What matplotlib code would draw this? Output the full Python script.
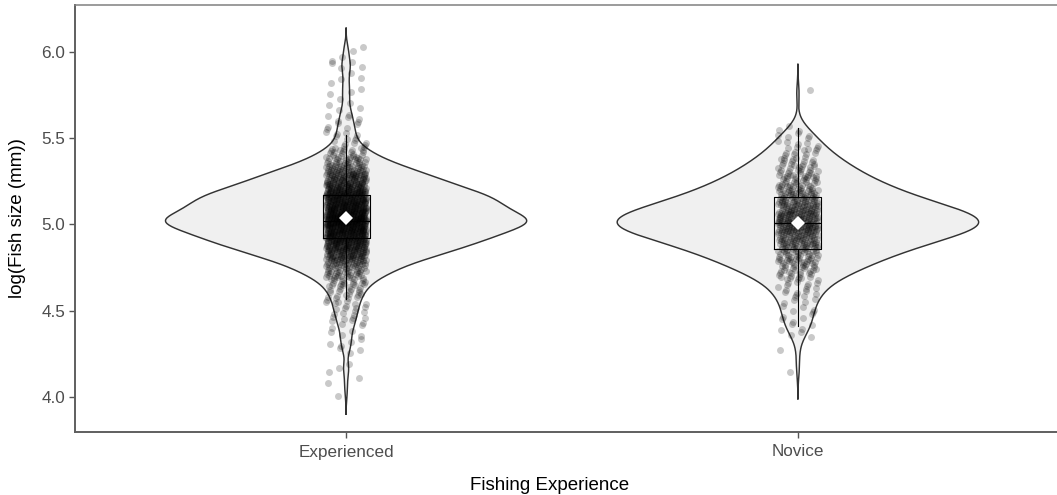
import numpy as np
import matplotlib
matplotlib.use("Agg")
import matplotlib.pyplot as plt

# Fish size (log mm) observations per group, recorded as value levels and counts
groups = ["Experienced", "Novice"]

exp_levels = [4.02, 4.07, 4.12, 4.17, 4.22, 4.27, 4.32, 4.37, 4.42, 4.47,
              4.52, 4.57, 4.62, 4.67, 4.72, 4.77, 4.82, 4.87, 4.92, 4.97,
              5.02, 5.07, 5.12, 5.17, 5.22, 5.27, 5.32, 5.37, 5.42, 5.47,
              5.52, 5.57, 5.62, 5.67, 5.72, 5.77, 5.82, 5.87, 5.92, 5.97, 6.02]
exp_counts = [1, 1, 1, 3, 0, 3, 4, 4, 6, 8,
              9, 11, 14, 20, 32, 45, 66, 86, 104, 120,
              140, 120, 112, 104, 82, 66, 48, 30, 18, 9,
              7, 6, 5, 3, 2, 3, 2, 2, 4, 2, 2]

nov_levels = [4.16, 4.21, 4.26, 4.31, 4.36, 4.41, 4.46, 4.51, 4.56, 4.61,
              4.66, 4.71, 4.76, 4.81, 4.86, 4.91, 4.96, 5.01, 5.06, 5.11,
              5.16, 5.21, 5.26, 5.31, 5.36, 5.41, 5.46, 5.51, 5.56, 5.61,
              5.66, 5.71, 5.76]
nov_counts = [1, 0, 1, 0, 3, 4, 5, 5, 6, 8,
              10, 16, 22, 28, 36, 44, 55, 62, 56, 46,
              37, 30, 24, 19, 15, 11, 8, 6, 3, 0,
              0, 0, 1]

y_ticks = [4.0, 4.5, 5.0, 5.5, 6.0]
x_title = "Fishing Experience"
y_title = "log(Fish size (mm))"

FONT = "Liberation Sans"
plt.rcParams["font.family"] = [FONT, "DejaVu Sans"]


def expand(levels, counts):
    return np.repeat(np.asarray(levels, float), np.asarray(counts, int))


def nrd0(x):
    sd = np.std(x, ddof=1)
    iqr = np.subtract(*np.percentile(x, [75, 25]))
    lo = min(sd, iqr / 1.34)
    return 0.9 * lo * len(x) ** (-0.2)


def kde(x, bw):
    grid = np.linspace(x.min() - 3 * bw, x.max() + 3 * bw, 512)
    z = (grid[:, None] - x[None, :]) / bw
    dens = np.exp(-0.5 * z ** 2).sum(axis=1) / (len(x) * bw * np.sqrt(2 * np.pi))
    return grid, dens


data = [expand(exp_levels, exp_counts), expand(nov_levels, nov_counts)]
positions = [1, 2]

fig = plt.figure(figsize=(10.57, 4.95), dpi=100)
ax = fig.add_axes([75 / 1057, 1 - 432 / 495, (1069 - 75) / 1057, (432 - 5) / 495])

# violins, area-scaled against the shared density peak
curves = [kde(d, nrd0(d)) for d in data]
peak = max(c[1].max() for c in curves)
half_width = 0.4
for pos, (g, dens) in zip(positions, curves):
    w = dens / peak * half_width
    ax.fill_betweenx(g, pos - w, pos + w, facecolor="#f0f0f0", edgecolor="none", zorder=1)
    ax.plot(np.r_[pos - w, (pos + w)[::-1], (pos - w)[:1]],
            np.r_[g, g[::-1], g[:1]], color="#333333", lw=1.05, zorder=2)

# jittered observations (low-discrepancy jitter so positions are reproducible)
jit_w, jit_h = 0.045, 0.025
for pos, d in zip(positions, data):
    idx = np.arange(len(d))
    jx = (np.mod(idx * 0.7548776662 + 0.31, 1.0) - 0.5) * 2 * jit_w
    jy = (np.mod(idx * 0.5698402910 + 0.17, 1.0) - 0.5) * 2 * jit_h
    ax.scatter(pos + jx, d + jy, s=25, color="black", alpha=0.21,
               linewidths=0, zorder=3)

# boxplots without fill, whiskers to 1.5 IQR, no caps or outliers
ax.boxplot(data, positions=positions, widths=0.104, whis=1.5,
           showfliers=False, showcaps=False, patch_artist=False,
           boxprops=dict(color="black", lw=0.8),
           whiskerprops=dict(color="black", lw=0.8),
           medianprops=dict(color="black", lw=0.8),
           manage_ticks=False, zorder=4)

# group means
means = [np.mean(d) for d in data]
ax.plot(positions, means, linestyle="none", marker="D", markersize=7.5,
        markerfacecolor="white", markeredgecolor="white", markeredgewidth=0,
        zorder=5)

ax.set_xlim(0.4, 2.6)
ax.set_ylim(3.797, 6.272)
ax.set_xticks(positions)
ax.set_xticklabels(groups)
ax.set_yticks(y_ticks)
ax.set_yticklabels([f"{t:.1f}" for t in y_ticks])

ax.tick_params(axis="both", colors="#555555", labelcolor="#4d4d4d",
               labelsize=12.3, length=4, width=1.0)
ax.tick_params(axis="x", pad=5)
ax.tick_params(axis="y", pad=3)

for side in ["left", "bottom"]:
    ax.spines[side].set_color("#5f5f5f")
    ax.spines[side].set_linewidth(1.4)
ax.spines["top"].set_color("#808080")
ax.spines["top"].set_linewidth(1.1)
ax.spines["right"].set_visible(False)

fig.text(550 / 1057, 1 - 485 / 495, x_title, ha="center", va="center",
         fontsize=13.5, color="black")
fig.text(18 / 1057, 1 - 218 / 495, y_title, ha="center", va="center",
         rotation=90, fontsize=13.5, color="black")

fig.savefig("out.png", dpi=100, facecolor="white")
